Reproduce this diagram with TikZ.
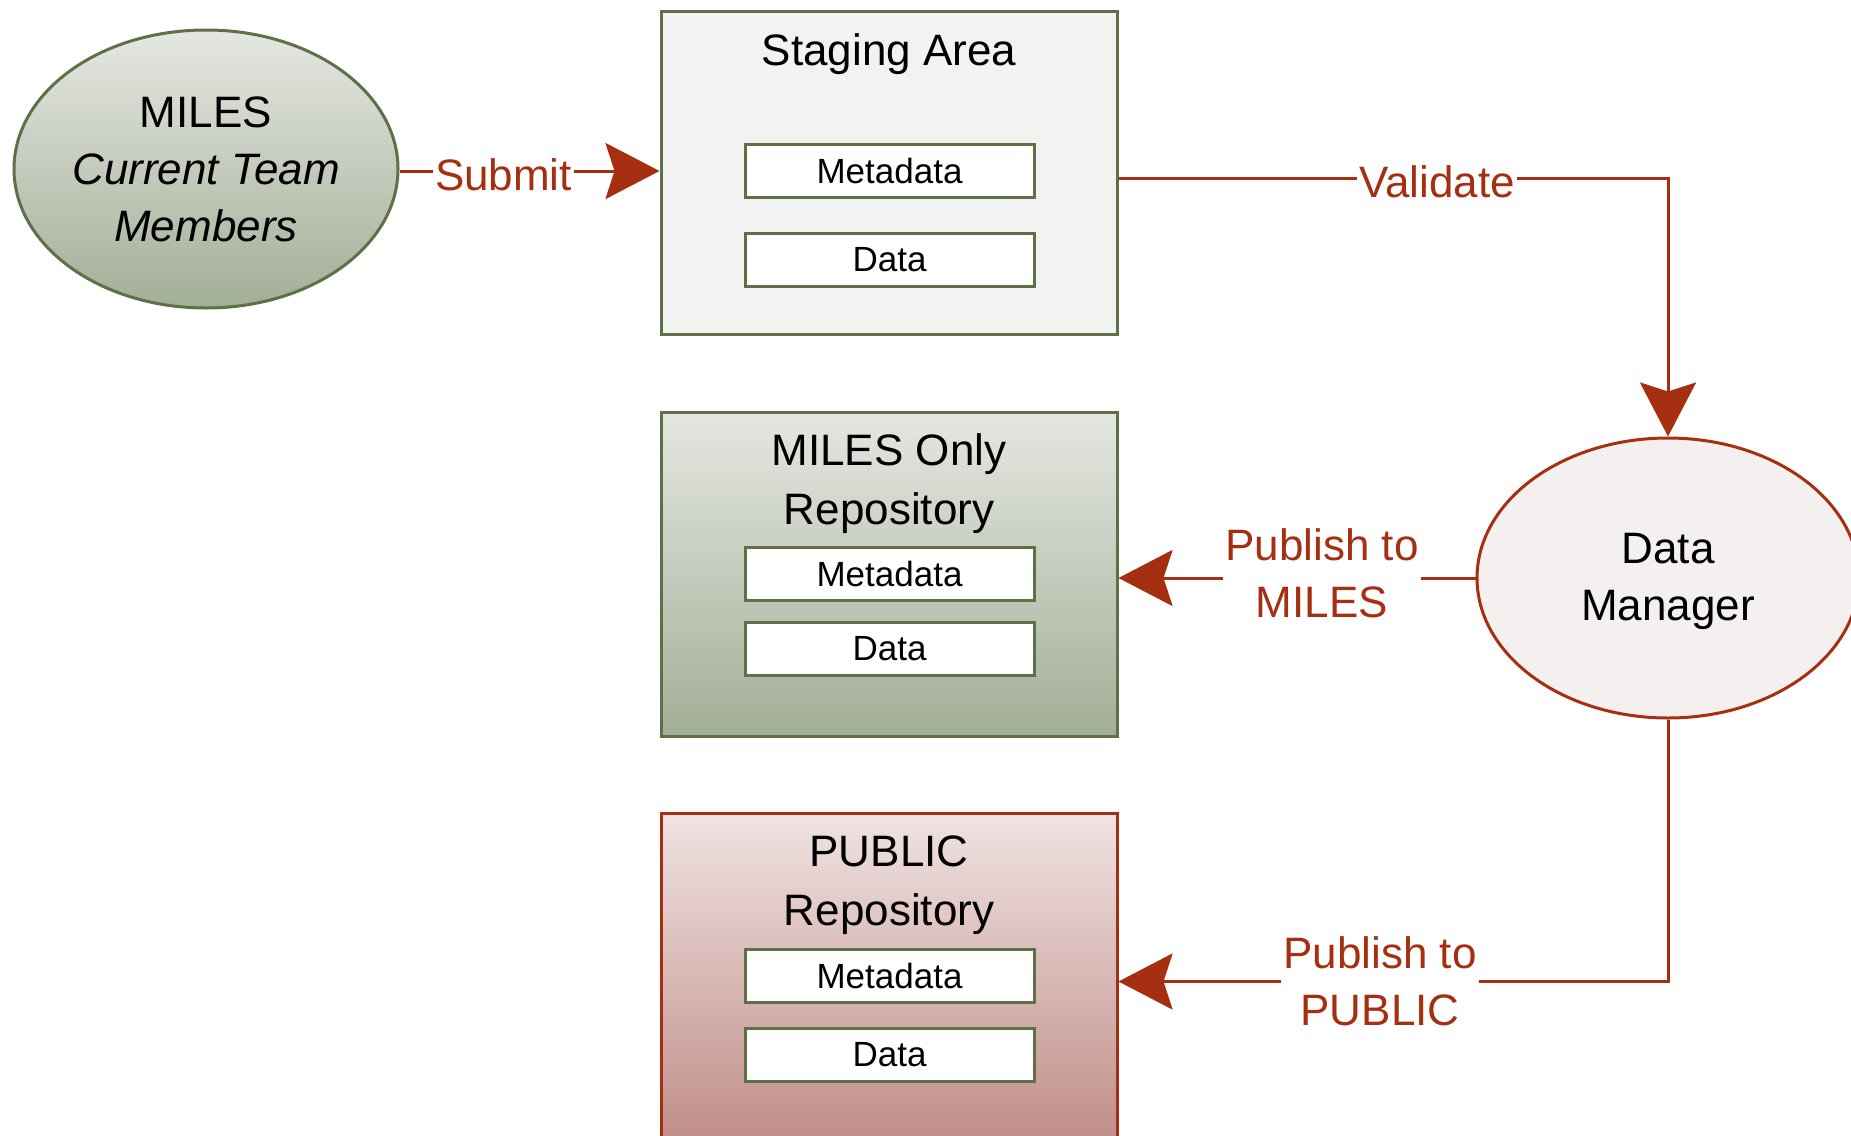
\documentclass[tikz,border=0pt]{standalone}
\usepackage{fontspec}
\setmainfont{Liberation Sans}
\usetikzlibrary{shapes.geometric,arrows.meta}
\definecolor{olive}{HTML}{5E7046}
\definecolor{rust}{HTML}{A52F10}
\definecolor{stagefill}{HTML}{F2F2F0}
\definecolor{dmfill}{HTML}{F3F0EF}
\definecolor{gtop}{HTML}{E5E7E2}
\definecolor{gbot}{HTML}{A3AE96}
\definecolor{rtop}{HTML}{EFE3E2}
\definecolor{rbot}{HTML}{BF8B85}
\begin{document}
\begin{tikzpicture}[x=1pt,y=-1pt,
  bigfont/.style={font=\fontsize{44}{57}\selectfont},
  smallfont/.style={font=\fontsize{35}{42}\selectfont},
  oval/.style={ellipse, line width=3pt, minimum width=384pt, minimum height=278pt, align=center, bigfont, inner sep=0pt},
  repo/.style={rectangle, line width=3pt, minimum width=456pt, inner sep=0pt},
  title/.style={bigfont, align=center, inner sep=0pt},
  slot/.style={rectangle, draw=olive, fill=white, line width=3pt, minimum width=289pt, minimum height=53pt, inner sep=0pt, smallfont},
  conn/.style={draw=rust, line width=3pt, -{Stealth[length=54pt,width=56pt,inset=9pt]}, rust},
  lab/.style={bigfont, text=rust, fill=white, inner xsep=2pt, inner ysep=0pt, align=center}
]
\useasboundingbox (0,0) rectangle (1851,1135);

% left ellipse
\node[oval, draw=olive, top color=gtop, bottom color=gbot] (team) at (206,169)
  {MILES\\\textit{Current Team}\\\textit{Members}};

% staging area
\node[repo, draw=olive, fill=stagefill, minimum height=323pt] (staging) at (889,172.5) {};
\node[title] (stagingtitle) at (889,54) {Staging Area};
\node[slot] (smeta) at (889.5,170.5) {Metadata};
\node[slot] (sdata) at (889.5,260) {Data};

% MILES only repository
\node[repo, draw=olive, top color=gtop, bottom color=gbot, minimum height=324pt] (milesbox) at (889,574) {};
\node[title] (milestitle) at (889,484) {MILES Only\\[2pt]Repository};
\node[slot] (mmeta) at (889.5,574) {Metadata};
\node[slot] (mdata) at (889.5,649) {Data};

% PUBLIC repository
\node[repo, draw=rust, top color=rtop, bottom color=rbot, minimum height=337pt] (pubbox) at (889,981.5) {};
\node[title] (pubtitle) at (889,885) {PUBLIC\\[2pt]Repository};
\node[slot] (pmeta) at (889.5,976) {Metadata};
\node[slot] (pdata) at (889.5,1054.5) {Data};

% data manager
\node[oval, draw=rust, fill=dmfill, minimum width=382pt, minimum height=280pt] (dm) at (1668,578) {};
\node[title] (dmtext) at (1668,581) {Data\\Manager};

% connectors
\draw[conn] (team.east |- 0,171) -- (staging.west |- 0,171)
  node[lab, pos=0.4, yshift=-4pt] (submitlab) {Submit};
\draw[conn] ([yshift=-5.5pt]staging.east) -| (dm.north)
  node[lab, pos=0.29, yshift=-4pt] (validlab) {Validate};
\draw[conn] (dm.west) -- (dm.west -| milesbox.east)
  node[lab, pos=0.43, yshift=5pt] (pubmileslab) {Publish to\\MILES};
\draw[conn] (dm.south) |- (pubbox.east)
  node[lab, pos=0.762] (pubpublab) {Publish to\\PUBLIC};
\end{tikzpicture}
\end{document}
